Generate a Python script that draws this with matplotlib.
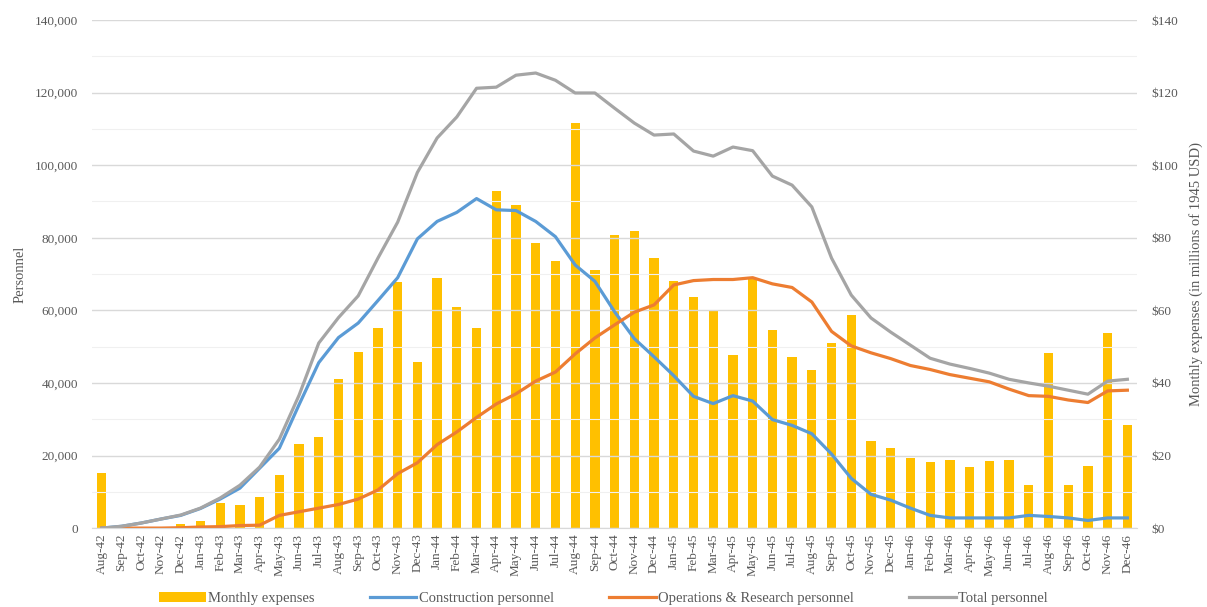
import matplotlib
matplotlib.use('Agg')
import matplotlib.pyplot as plt
from matplotlib.ticker import FuncFormatter, MultipleLocator

# month labels Aug-42 .. Dec-46
months = ['Aug-42', 'Sep-42', 'Oct-42', 'Nov-42', 'Dec-42',
          'Jan-43', 'Feb-43', 'Mar-43', 'Apr-43', 'May-43', 'Jun-43',
          'Jul-43', 'Aug-43', 'Sep-43', 'Oct-43', 'Nov-43', 'Dec-43',
          'Jan-44', 'Feb-44', 'Mar-44', 'Apr-44', 'May-44', 'Jun-44',
          'Jul-44', 'Aug-44', 'Sep-44', 'Oct-44', 'Nov-44', 'Dec-44',
          'Jan-45', 'Feb-45', 'Mar-45', 'Apr-45', 'May-45', 'Jun-45',
          'Jul-45', 'Aug-45', 'Sep-45', 'Oct-45', 'Nov-45', 'Dec-45',
          'Jan-46', 'Feb-46', 'Mar-46', 'Apr-46', 'May-46', 'Jun-46',
          'Jul-46', 'Aug-46', 'Sep-46', 'Oct-46', 'Nov-46', 'Dec-46']

# monthly expenses, millions of 1945 USD
expenses = [15.2, 0, 0, 0, 1.0,
            2.0, 7.0, 6.3, 8.5, 14.5, 23.3,
            25.2, 41.2, 48.5, 55.0, 67.9, 45.8,
            68.9, 61.0, 55.0, 93.0, 89.0, 78.5,
            73.5, 111.5, 71.0, 80.8, 82.0, 74.3,
            68.0, 63.8, 60.0, 47.6, 69.0, 54.5,
            47.2, 43.5, 51.0, 58.8, 23.9, 22.2,
            19.2, 18.2, 18.8, 16.7, 18.5, 18.8,
            11.8, 48.2, 11.8, 17.1, 53.8, 28.4]

construction = [0, 500, 1400, 2500, 3500,
                5400, 8000, 11000, 16500, 22000, 34000,
                45600, 52500, 56500, 62700, 69000, 79700,
                84500, 87000, 90800, 87700, 87500, 84500,
                80300, 72500, 68000, 59600, 52200, 47200,
                42000, 36300, 34300, 36500, 35000, 29900,
                28300, 26000, 20400, 13700, 9300, 7700,
                5500, 3500, 2800, 2800, 2800, 2800,
                3500, 3200, 2800, 2100, 2800, 2800]

operations = [0, 0, 0, 0, 100,
              300, 400, 700, 800, 3500, 4500,
              5500, 6500, 8000, 10500, 15000, 18000,
              23000, 26500, 30500, 34200, 37000, 40500,
              43000, 48000, 52400, 56000, 59500, 61500,
              67000, 68200, 68500, 68500, 69000, 67300,
              66300, 62300, 54200, 50200, 48300, 46700,
              44800, 43700, 42300, 41300, 40300, 38300,
              36500, 36300, 35300, 34600, 37800, 38000]

total = [0, 500, 1400, 2500, 3600,
         5500, 8300, 11800, 16800, 24500, 36600,
         51000, 58000, 64000, 74400, 84300, 98000,
         107500, 113300, 121200, 121500, 124800, 125400,
         123400, 119900, 119900, 115700, 111600, 108300,
         108600, 103900, 102500, 105000, 104000, 97000,
         94500, 88500, 74400, 64200, 57900, 54000,
         50400, 46800, 45200, 44000, 42700, 41000,
         40000, 39100, 38000, 36900, 40500, 41000]

plt.rcParams['font.family'] = ['Liberation Serif', 'DejaVu Serif']
grey = '#595959'

fig = plt.figure(figsize=(12.07, 6.07), dpi=100)
ax = fig.add_axes([0.0762, 0.130, 0.866, 0.837])
ax2 = ax.twinx()

x = list(range(len(months)))

# bars on the right axis, lines on the left axis drawn on top
bars = ax2.bar(x, expenses, width=0.47, color='#FFC000', label='Monthly expenses')
l1, = ax.plot(x, construction, color='#5B9BD5', lw=2.3, label='Construction personnel')
l2, = ax.plot(x, operations, color='#ED7D31', lw=2.3, label='Operations & Research personnel')
l3, = ax.plot(x, total, color='#A5A5A5', lw=2.3, label='Total personnel')

ax.set_zorder(ax2.get_zorder() + 1)
ax.patch.set_visible(False)

ax.set_xlim(-0.5, len(months) - 0.5)
ax.set_ylim(0, 140000)
ax2.set_ylim(0, 140)

ax.yaxis.set_major_locator(MultipleLocator(20000))
ax.yaxis.set_minor_locator(MultipleLocator(10000))
ax.yaxis.set_major_formatter(FuncFormatter(lambda v, p: f'{int(v):,}'))
ax2.yaxis.set_major_locator(MultipleLocator(20))
ax2.yaxis.set_major_formatter(FuncFormatter(lambda v, p: f'${int(v)}'))

ax.grid(axis='y', which='major', color='#D9D9D9', lw=1.0)
ax.grid(axis='y', which='minor', color='#F0F0F0', lw=0.8)
ax.set_axisbelow(True)

ax.set_xticks(x)
ax.set_xticklabels(months, rotation=90, fontsize=9.5, color=grey)
ax.tick_params(axis='x', length=0, pad=4)
ax.tick_params(axis='y', which='both', length=0, pad=10, labelsize=9.5, labelcolor=grey)
ax2.tick_params(axis='y', length=0, pad=10, labelsize=9.5, labelcolor=grey)

for a in (ax, ax2):
    for s in ('top', 'left', 'right', 'bottom'):
        a.spines[s].set_visible(False)
ax.spines['bottom'].set_visible(True)
ax.spines['bottom'].set_color('#D9D9D9')

ax.set_ylabel('Personnel', fontsize=10.5, color=grey, labelpad=6)
ax2.set_ylabel('Monthly expenses (in millions of 1945 USD)', fontsize=10.5,
               color=grey, labelpad=8)

fig.legend([bars, l1, l2, l3],
           ['Monthly expenses', 'Construction personnel',
            'Operations & Research personnel', 'Total personnel'],
           loc='lower center', bbox_to_anchor=(0.5, -0.018), ncol=4,
           frameon=False, fontsize=10.5, handlelength=3.2, handletextpad=0.15,
           columnspacing=3.8, labelcolor=grey)

fig.savefig('out.png', dpi=100)
